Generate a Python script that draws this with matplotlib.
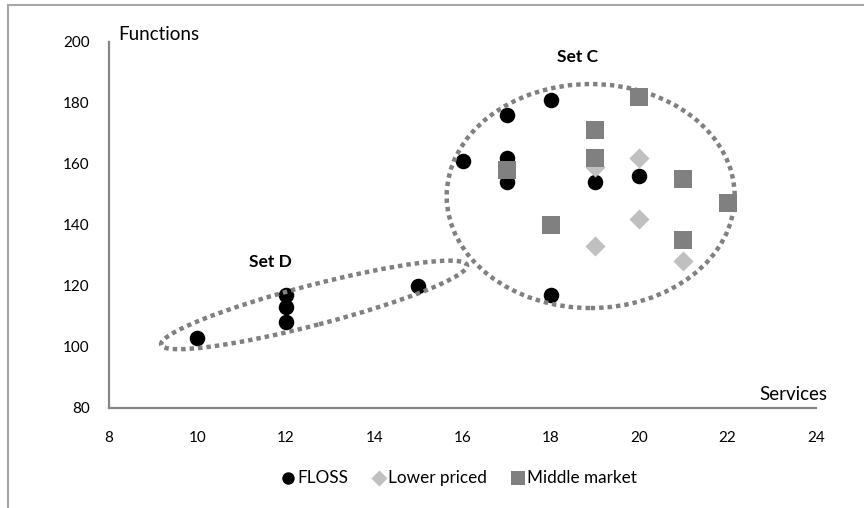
import matplotlib
matplotlib.use("Agg")
import matplotlib.pyplot as plt
from matplotlib.patches import Ellipse
from matplotlib.lines import Line2D
import matplotlib.transforms as mtransforms

plt.rcParams['font.family'] = ['Lato', 'DejaVu Sans']

# ---- data ----
floss_x = [10, 12, 12, 12, 15, 16, 17, 17, 17, 18, 18, 19, 20]
floss_y = [103, 117, 113, 108, 120, 161, 176, 162, 154, 181, 117, 154, 156]
lower_x = [19, 20, 20, 21, 19]
lower_y = [159, 162, 142, 128, 133]
middle_x = [17, 18, 19, 19, 20, 21, 21, 22]
middle_y = [158, 140, 171, 162, 182, 155, 135, 147]
series_names = ["FLOSS", "Lower priced", "Middle market"]
x_ticks = [8, 10, 12, 14, 16, 18, 20, 22, 24]
y_ticks = [80, 100, 120, 140, 160, 180, 200]

fig = plt.figure(figsize=(8.64, 5.08), dpi=100)
ax = fig.add_axes([0.1262, 0.1974, 0.8183, 0.7205])

ax.scatter(floss_x, floss_y, s=125, marker='o', color='black', zorder=3,
           label=series_names[0], linewidths=0)
ax.scatter(lower_x, lower_y, s=105, marker='D', color='#c0c0c0', zorder=4,
           label=series_names[1], linewidths=0)
ax.scatter(middle_x, middle_y, s=155, marker='s', color='#808080', zorder=5,
           label=series_names[2], linewidths=0)

ax.set_xlim(8, 24)
ax.set_ylim(80, 200)
ax.set_xticks(x_ticks)
ax.set_yticks(y_ticks)
ax.tick_params(length=0, labelsize=11, colors='black')
ax.tick_params(axis='y', pad=14)
ax.tick_params(axis='x', pad=17)
for s in ['top', 'right']:
    ax.spines[s].set_visible(False)
for s in ['left', 'bottom']:
    ax.spines[s].set_color('#868686')
    ax.spines[s].set_linewidth(1.6)

# ellipses (sizes in inches around data centers)
def add_ellipse(cx, cy, w_in, h_in, angle):
    tr = fig.dpi_scale_trans + mtransforms.ScaledTranslation(cx, cy, ax.transData)
    e = Ellipse((0, 0), w_in, h_in, angle=angle, transform=tr, fill=False,
                edgecolor='#808080', linewidth=3.2, linestyle=(0, (1, 0.9)),
                zorder=6, clip_on=False)
    e.set_capstyle('butt')
    fig.add_artist(e)

add_ellipse(12.64, 113.7, 3.16, 0.40, 14.6)
add_ellipse(18.9, 149.4, 2.88, 2.24, 0)

ax.text(11.64, 127.8, "Set D", fontsize=12.5, fontweight='bold', ha='center', va='center')
ax.text(18.6, 195.0, "Set C", fontsize=12.5, fontweight='bold', ha='center', va='center')
ax.text(8.2, 202.4, "Functions", fontsize=13.5, ha='left', va='center', clip_on=False)
ax.text(24.25, 84.2, "Services", fontsize=13.5, ha='right', va='center', clip_on=False)

leg = ax.legend(loc='center', bbox_to_anchor=(458 / 864, 1 - 477.7 / 508),
                bbox_transform=fig.transFigure, ncol=3, frameon=False,
                fontsize=12.3, handletextpad=0.05, columnspacing=1.3,
                handlelength=1.0, markerscale=0.8)

# chart-area border (top and left edges visible)
fig.add_artist(Line2D([8 / 864, 8 / 864], [0, 1 - 5 / 508], transform=fig.transFigure,
                      color='#a6a6a6', linewidth=1.5))
fig.add_artist(Line2D([8 / 864, 1], [1 - 5 / 508, 1 - 5 / 508], transform=fig.transFigure,
                      color='#a6a6a6', linewidth=1.5))

fig.savefig("out.png", dpi=100)
